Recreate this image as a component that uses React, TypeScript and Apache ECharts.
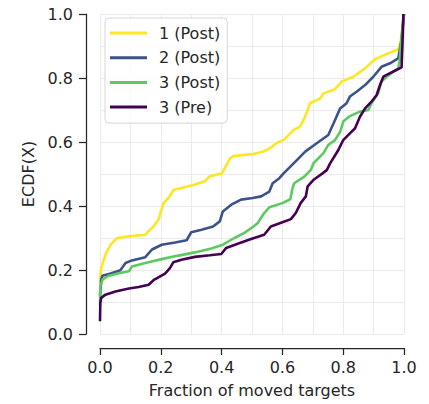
import { useEffect, useRef } from 'react';
import * as echarts from 'echarts';

// ECDF curves: [fraction of moved targets, ECDF]
const seriesNames = ['1 (Post)', '2 (Post)', '3 (Post)', '3 (Pre)'];
const seriesColors = ['#fde725', '#3b528b', '#5ec962', '#440154'];

const post1 = [
  [0, 0.16], [0.003, 0.2], [0.01, 0.225], [0.02, 0.253], [0.035, 0.279], [0.046, 0.29],
  [0.057, 0.3], [0.095, 0.305], [0.149, 0.31], [0.158, 0.32], [0.176, 0.336], [0.192, 0.357],
  [0.209, 0.409], [0.225, 0.425], [0.243, 0.451], [0.268, 0.456], [0.312, 0.467], [0.345, 0.477],
  [0.361, 0.493], [0.401, 0.502], [0.428, 0.549], [0.44, 0.556], [0.5, 0.562], [0.538, 0.57],
  [0.566, 0.585], [0.582, 0.598], [0.604, 0.606], [0.637, 0.638], [0.658, 0.648], [0.675, 0.679],
  [0.691, 0.721], [0.724, 0.736], [0.735, 0.752], [0.773, 0.765], [0.795, 0.789], [0.833, 0.804],
  [0.872, 0.83], [0.904, 0.858], [0.943, 0.875], [0.981, 0.89], [0.989, 0.914], [0.992, 0.94],
  [1.0, 1.0],
];

const post2 = [
  [0, 0.12], [0.004, 0.17], [0.008, 0.182], [0.035, 0.189], [0.067, 0.199], [0.084, 0.222],
  [0.105, 0.23], [0.149, 0.24], [0.171, 0.264], [0.203, 0.279], [0.247, 0.286], [0.285, 0.293],
  [0.3, 0.318], [0.334, 0.326], [0.372, 0.336], [0.394, 0.352], [0.404, 0.383], [0.432, 0.404],
  [0.464, 0.42], [0.502, 0.425], [0.53, 0.43], [0.557, 0.445], [0.568, 0.471], [0.59, 0.487],
  [0.604, 0.502], [0.637, 0.533], [0.675, 0.57], [0.713, 0.596], [0.751, 0.622], [0.768, 0.658],
  [0.79, 0.705], [0.811, 0.721], [0.822, 0.742], [0.844, 0.757], [0.872, 0.778], [0.899, 0.804],
  [0.926, 0.835], [0.954, 0.846], [0.981, 0.861], [0.986, 0.8875], [0.992, 0.919], [1.0, 1.0],
];

const post3 = [
  [0, 0.09], [0.001, 0.149], [0.008, 0.17], [0.029, 0.182], [0.062, 0.19], [0.095, 0.196],
  [0.105, 0.211], [0.149, 0.222], [0.203, 0.234], [0.258, 0.245], [0.312, 0.255], [0.366, 0.267],
  [0.404, 0.279], [0.442, 0.3], [0.475, 0.316], [0.505, 0.336], [0.519, 0.347], [0.54, 0.378],
  [0.557, 0.396], [0.6, 0.409], [0.626, 0.421], [0.633, 0.455], [0.639, 0.471], [0.672, 0.492],
  [0.693, 0.512], [0.702, 0.533], [0.735, 0.565], [0.751, 0.591], [0.773, 0.606], [0.79, 0.632],
  [0.8, 0.664], [0.822, 0.681], [0.855, 0.695], [0.883, 0.7], [0.893, 0.721], [0.915, 0.752],
  [0.926, 0.789], [0.943, 0.804], [0.965, 0.82], [0.981, 0.83], [0.986, 0.856], [0.989, 0.898],
  [1.0, 1.0],
];

const pre3 = [
  [0, 0.04], [0.001, 0.097], [0.004, 0.113], [0.018, 0.123], [0.051, 0.133], [0.095, 0.142],
  [0.127, 0.147], [0.16, 0.154], [0.176, 0.168], [0.214, 0.189], [0.23, 0.206], [0.241, 0.224],
  [0.268, 0.232], [0.312, 0.241], [0.361, 0.246], [0.399, 0.25], [0.415, 0.269], [0.453, 0.282],
  [0.497, 0.297], [0.54, 0.31], [0.562, 0.336], [0.6, 0.349], [0.628, 0.359], [0.644, 0.378],
  [0.66, 0.409], [0.677, 0.43], [0.683, 0.461], [0.704, 0.483], [0.732, 0.502], [0.746, 0.512],
  [0.757, 0.533], [0.784, 0.575], [0.8, 0.606], [0.822, 0.627], [0.839, 0.643], [0.855, 0.679],
  [0.872, 0.705], [0.893, 0.726], [0.91, 0.747], [0.921, 0.778], [0.932, 0.804], [0.954, 0.815],
  [0.975, 0.825], [0.992, 0.833], [0.995, 0.908], [0.998, 1.0],
];

const curves = [post1, post2, post3, pre3];

const FONT = '"DejaVu Sans", sans-serif';
const INK = '#262626';

export default function App() {
  const chartRef = useRef<HTMLDivElement>(null);

  useEffect(() => {
    if (!chartRef.current) return;
    const chart = echarts.init(chartRef.current, null, { renderer: 'svg' });

    const axisCommon = {
      type: 'value' as const,
      min: 0,
      max: 1,
      interval: 0.2,
      offset: 14,
      axisLine: { show: true, onZero: false, lineStyle: { color: INK, width: 1.25 } },
      axisTick: { show: true, length: 7, lineStyle: { color: INK, width: 1.25 } },
      axisLabel: {
        color: INK,
        fontSize: 16,
        fontFamily: FONT,
        formatter: (v: number) => v.toFixed(1),
      },
      splitLine: { show: true, lineStyle: { color: '#ebebeb', width: 1 } },
      minorTick: { show: false, splitNumber: 2 },
      minorSplitLine: { show: true, lineStyle: { color: '#ebebeb', width: 1 } },
      nameLocation: 'middle' as const,
      nameTextStyle: { color: INK, fontSize: 16, fontFamily: FONT },
    };

    chart.setOption({
      animation: false,
      backgroundColor: '#ffffff',
      grid: { left: 100, top: 14, width: 304, height: 320 },
      xAxis: {
        ...axisCommon,
        name: 'Fraction of moved targets',
        nameGap: 34,
        axisLabel: { ...axisCommon.axisLabel, margin: 11 },
      },
      yAxis: {
        ...axisCommon,
        name: 'ECDF(X)',
        nameGap: 50,
        axisLabel: { ...axisCommon.axisLabel, margin: 13 },
      },
      legend: {
        orient: 'vertical',
        left: 105,
        top: 18,
        padding: [7, 7, 8, 5],
        icon: 'rect',
        itemWidth: 37,
        itemHeight: 3,
        itemGap: 8.7,
        backgroundColor: 'rgba(255,255,255,0.85)',
        borderColor: '#d6d6d6',
        borderWidth: 1,
        borderRadius: 4,
        textStyle: { color: INK, fontSize: 16, fontFamily: FONT, lineHeight: 16, padding: [0, 0, 0, 7] },
        data: seriesNames,
      },
      series: curves.map((pts, i) => ({
        name: seriesNames[i],
        type: 'line',
        data: pts,
        showSymbol: false,
        symbol: 'none',
        clip: false,
        color: seriesColors[i],
        lineStyle: { color: seriesColors[i], width: 2.6 },
      })),
    });

    return () => chart.dispose();
  }, []);

  return (
    <div
      ref={chartRef}
      style={{ position: 'fixed', left: 0, top: 0, width: 429, height: 404 }}
    />
  );
}
